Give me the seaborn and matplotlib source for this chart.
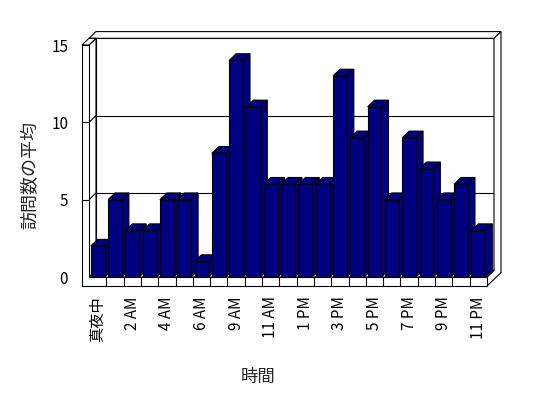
import matplotlib
matplotlib.use("Agg")
import matplotlib.pyplot as plt
from matplotlib.patches import Polygon
import seaborn as sns

# ---- data ----
hours = ['真夜中', '1 AM', '2 AM', '3 AM', '4 AM', '5 AM', '6 AM', '8 AM', '9 AM',
         '10 AM', '11 AM', '12 PM', '1 PM', '2 PM', '3 PM', '4 PM', '5 PM', '6 PM',
         '7 PM', '8 PM', '9 PM', '10 PM', '11 PM']
visits = [2, 5, 3, 3, 5, 5, 1, 8, 14, 11, 6, 6, 6, 6, 13, 9, 11, 5, 9, 7, 5, 6, 3]
y_ticks = [0, 5, 10, 15]
x_label = '時間'
y_label = '訪問数の平均'

sns.set_theme(style='white')
plt.rcParams['font.family'] = ['Noto Sans CJK JP', 'DejaVu Sans']

NAVY = '#000080'
LW = 0.8
n = len(hours)

fig = plt.figure(figsize=(5.48, 3.98), dpi=100)
fig.patch.set_facecolor('white')
ax = fig.add_axes([89 / 548, 121 / 398, 398 / 548, 232 / 398])
ax.set_facecolor('none')

sns.barplot(x=hours, y=visits, order=hours, color=NAVY, saturation=1,
            edgecolor='black', linewidth=LW, width=0.8, ax=ax)

x0, x1 = -0.5, n - 0.5
y1 = 15
ax.set_xlim(x0, x1)
ax.set_ylim(0, y1)

# depth offsets in data units (≈7 px)
DX = 7 / (398 / n)
DY = 6.7 / (232 / 15)
FT = 9 / (232 / 15)  # floor slab thickness


def poly(pts, z, fc='white'):
    p = Polygon(pts, closed=True, facecolor=fc, edgecolor='black',
                linewidth=LW, zorder=z, clip_on=False, joinstyle='miter')
    ax.add_patch(p)


# back wall inner face
poly([(x0 + DX, DY), (x1 + DX, DY), (x1 + DX, y1 + DY), (x0 + DX, y1 + DY)], 1)
# back wall top face
poly([(x0, y1 + DY), (x1 + DX, y1 + DY), (x1 + 2 * DX, y1 + 2 * DY), (x0 + DX, y1 + 2 * DY)], 1.5)
# back wall + floor right face
poly([(x1, 0), (x1, -FT), (x1 + 2 * DX, -FT + 2 * DY), (x1 + 2 * DX, y1 + 2 * DY),
      (x1 + DX, y1 + DY), (x1 + DX, DY)], 1.5)
# side wall inner face
poly([(x0, 0), (x0, y1), (x0 + DX, y1 + DY), (x0 + DX, DY)], 2)
# side wall top face
poly([(x0 - DX, y1), (x0, y1), (x0 + DX, y1 + DY), (x0, y1 + DY)], 2)
# floor top face
poly([(x0, 0), (x1, 0), (x1 + DX, DY), (x0 + DX, DY)], 2)
# L-shaped front face (side wall + floor)
poly([(x0 - DX, -FT), (x1, -FT), (x1, 0), (x0, 0), (x0, y1), (x0 - DX, y1)], 3)

# gridlines on back wall + side wall + front ticks
for yv in y_ticks[1:-1]:
    ax.plot([x0 + DX, x1 + DX], [yv + DY, yv + DY], color='black', lw=LW, zorder=1.2, clip_on=False)
    ax.plot([x0, x0 + DX], [yv, yv + DY], color='black', lw=LW, zorder=2.2, clip_on=False)
for yv in y_ticks[1:-1]:
    ax.plot([x0 - DX, x0], [yv, yv], color='black', lw=LW, zorder=3.2, clip_on=False)
# floor category ticks
for k in range(1, n):
    ax.plot([x0 + k, x0 + k], [-FT, 0], color='black', lw=LW, zorder=3.2, clip_on=False)

# 3D faces for bars
for i, bar in enumerate(ax.patches[:n]):
    bx0 = bar.get_x()
    bx1 = bx0 + bar.get_width()
    h = bar.get_height()
    base = 10 + 3 * i
    poly([(bx1, 0), (bx1, h), (bx1 + DX, h + DY), (bx1 + DX, DY)], base, NAVY)
    poly([(bx0, h), (bx1, h), (bx1 + DX, h + DY), (bx0 + DX, h + DY)], base + 1, NAVY)
    bar.set_zorder(base + 2)

for s in ax.spines.values():
    s.set_visible(False)

ax.set_yticks(y_ticks)
ax.set_yticklabels([str(v) for v in y_ticks], fontsize=11, color='black')
ax.set_xticks(range(0, n, 2))
ax.set_xticklabels(hours[::2], rotation=90, fontsize=11, color='black')
ax.tick_params(axis='y', length=0, pad=15)
ax.tick_params(axis='x', length=0, pad=14)
ax.set_xlabel('')
ax.set_ylabel('')

fig.text(30 / 548, 1 - 175 / 398, y_label, rotation=90, ha='center', va='center', fontsize=13)
fig.text(258 / 548, 1 - 377 / 398, x_label, ha='center', va='center', fontsize=12.5)

fig.savefig('out.png', dpi=100, facecolor='white')
